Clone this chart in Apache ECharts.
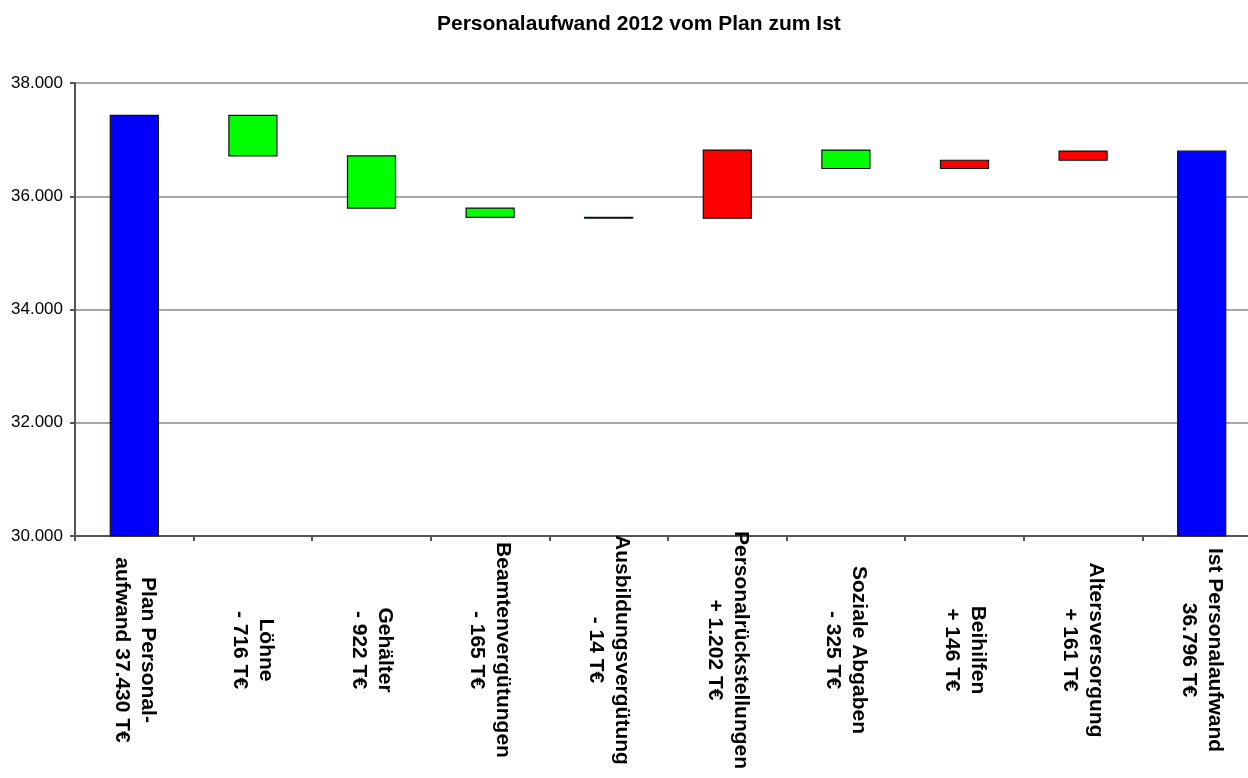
<!DOCTYPE html>
<html>
<head>
<meta charset="utf-8">
<script src="https://cdn.jsdelivr.net/npm/echarts@6/dist/echarts.min.js"></script>
<style>
html,body{margin:0;padding:0;background:#fff;}
#chart{width:1248px;height:778px;}
</style>
</head>
<body>
<div id="chart"></div>
<script>
// ---- data ----
const titleText = 'Personalaufwand 2012 vom Plan zum Ist';
const categories = [
  'Plan Personal-\naufwand 37.430 T€',
  'Löhne\n- 716 T€',
  'Gehälter\n- 922 T€',
  'Beamtenvergütungen\n- 165 T€',
  'Ausbildungsvergütung\n- 14 T€',
  'Personalrückstellungen\n+ 1.202 T€',
  'Soziale Abgaben\n- 325 T€',
  'Beihilfen\n+ 146 T€',
  'Altersversorgung\n+ 161 T€',
  'Ist Personalaufwand\n36.796 T€'
];
const kinds = ['total','change','change','change','change','change','change','change','change','total'];
const planValue = 37430;
const istValue = 36796;
const changes = [null, -716, -922, -165, -14, 1202, -325, 146, 161, null];
const yTicks = [30000, 32000, 34000, 36000, 38000];

// ---- build ----
const YMIN = yTicks[0], YMAX = yTicks[yTicks.length - 1];
const items = [];
let level = planValue;
for (let i = 0; i < categories.length; i++) {
  if (kinds[i] === 'total') {
    const v = i === 0 ? planValue : istValue;
    items.push({ value: [i, YMIN, v], itemColor: '#0000ff' });
    level = v;
  } else {
    const start = level, end = level + changes[i];
    items.push({ value: [i, Math.min(start, end), Math.max(start, end)],
                 itemColor: changes[i] < 0 ? '#00ff00' : '#ff0000' });
    level = end;
  }
}

const fmt = v => String(v).replace(/\B(?=(\d{3})+(?!\d))/g, '.');
const FONT = '"Liberation Sans", Arial, sans-serif';

const chart = echarts.init(document.getElementById('chart'), null, { renderer: 'canvas' });
chart.setOption({
  backgroundColor: '#ffffff',
  animation: false,
  title: {
    text: titleText,
    left: 432, top: 9,
    textStyle: { fontFamily: FONT, fontSize: 21, fontWeight: 'bold', color: '#000' }
  },
  grid: { left: 75, right: -13, top: 83, bottom: 242, outerBoundsMode: 'none', containLabel: false },
  xAxis: {
    type: 'category',
    data: categories,
    boundaryGap: true,
    axisLine: { show: true, lineStyle: { color: '#555', width: 2 } },
    axisTick: { show: true, alignWithLabel: false, length: 5, lineStyle: { color: '#555', width: 2 } },
    axisLabel: {
      interval: 0, rotate: -90, margin: 114,
      align: 'center', verticalAlign: 'middle',
      fontFamily: FONT, fontSize: 21, fontWeight: 'bold', color: '#000', lineHeight: 26
    },
    splitLine: { show: false }
  },
  yAxis: {
    type: 'value',
    min: YMIN, max: YMAX, interval: yTicks[1] - yTicks[0],
    axisLine: { show: true, lineStyle: { color: '#555', width: 2 } },
    axisTick: { show: true, length: 5, lineStyle: { color: '#555', width: 2 } },
    axisLabel: { margin: 12, fontFamily: FONT, fontSize: 17, color: '#000', formatter: fmt },
    splitLine: { show: true, lineStyle: { color: '#888', width: 1.5 } }
  },
  series: [{
    type: 'custom',
    data: items,
    encode: { x: 0, y: [1, 2] },
    renderItem: function (params, api) {
      const i = api.value(0);
      const low = api.value(1), high = api.value(2);
      const pTop = api.coord([i, high]);
      const pBot = api.coord([i, low]);
      const w = api.size([1, 0])[0] * 0.405;
      return {
        type: 'rect',
        shape: { x: pTop[0] - w / 2, y: pTop[1], width: w, height: pBot[1] - pTop[1] },
        style: { fill: items[params.dataIndex].itemColor, stroke: '#111', lineWidth: 1.2 }
      };
    }
  }]
});
</script>
</body>
</html>
